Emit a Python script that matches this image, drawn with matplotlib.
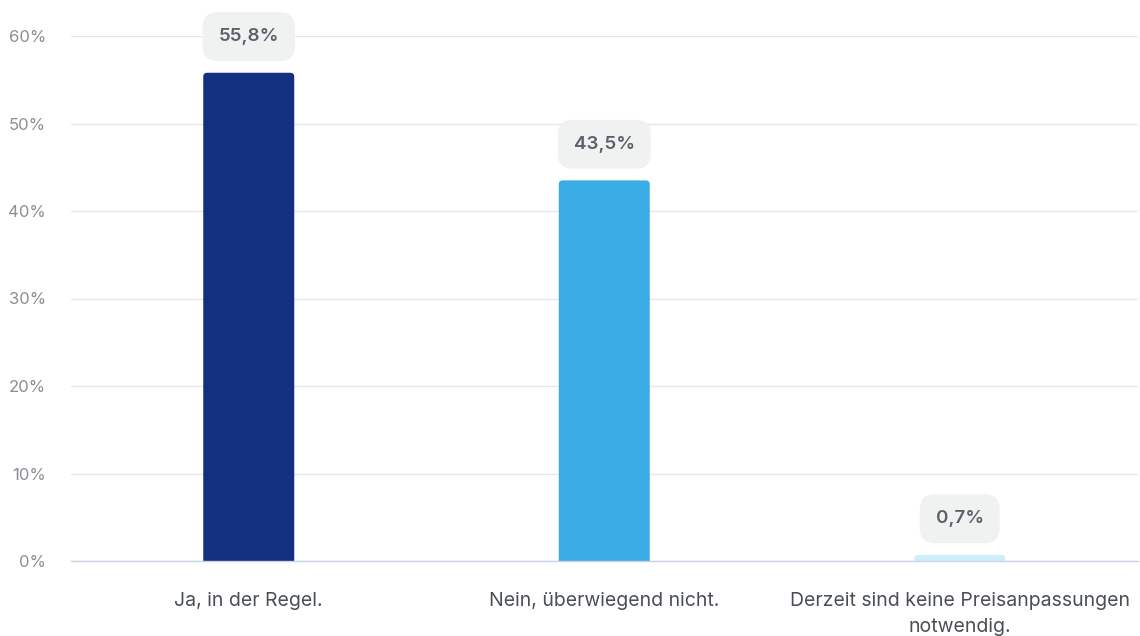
import matplotlib.pyplot as plt
from matplotlib.patches import FancyBboxPatch

# data
categories = [
    "Ja, in der Regel.",
    "Nein, überwiegend nicht.",
    "Derzeit sind keine Preisanpassungen\nnotwendig.",
]
values = [55.8, 43.5, 0.7]
value_labels = ["55,8%", "43,5%", "0,7%"]
bar_colors = ["#132f7f", "#3aade6", "#cdeffa"]
y_ticks = [0, 10, 20, 30, 40, 50, 60]

plt.rcParams["font.family"] = ["Inter", "DejaVu Sans"]

fig = plt.figure(figsize=(11.4, 6.36), dpi=100)
ax = fig.add_axes([71 / 1140, 75 / 636, 1066.5 / 1140, 525 / 636])

x = range(len(categories))
bar_w = 0.256

ax.set_xlim(-0.5, len(categories) - 0.5)
ax.set_ylim(0, 60)

# rounded bars (only top corners visible, bottom is clipped by the axes)
px_x = 355.5
px_y = 525 / 60
r = 4 / px_x
for i, v in zip(x, values):
    patch = FancyBboxPatch(
        (i - bar_w / 2, -2), bar_w, v + 2,
        boxstyle=f"round,pad=0,rounding_size={r}",
        mutation_aspect=px_x / px_y,
        facecolor=bar_colors[i], edgecolor="none", zorder=3,
    )
    ax.add_patch(patch)

# value bubbles
for i, v, lab in zip(x, values, value_labels):
    ax.annotate(
        lab, (i, v), xytext=(0, 26), textcoords="offset points",
        ha="center", va="center", fontsize=13.5, fontweight="semibold",
        color="#5a6169", annotation_clip=False, zorder=5,
        bbox=dict(boxstyle="round,pad=0.85,rounding_size=0.8",
                  facecolor="#f0f2f2", edgecolor="none"),
    )

ax.set_yticks(y_ticks)
ax.set_yticklabels([f"{t}%" for t in y_ticks])
ax.set_xticks(list(x))
ax.set_xticklabels(categories, fontsize=14, color="#4a4f55", linespacing=1.6)
ax.tick_params(axis="y", length=0, pad=18, labelsize=12, labelcolor="#8a8f94")
ax.tick_params(axis="x", length=0, pad=22)

ax.grid(axis="y", color="#e6e8ec", linewidth=1, zorder=0)
for s in ["top", "right", "left"]:
    ax.spines[s].set_visible(False)
ax.spines["bottom"].set_color("#c9d3e6")
ax.spines["bottom"].set_linewidth(1)
ax.spines["bottom"].set_zorder(4)

plt.savefig("out.png", dpi=100)
